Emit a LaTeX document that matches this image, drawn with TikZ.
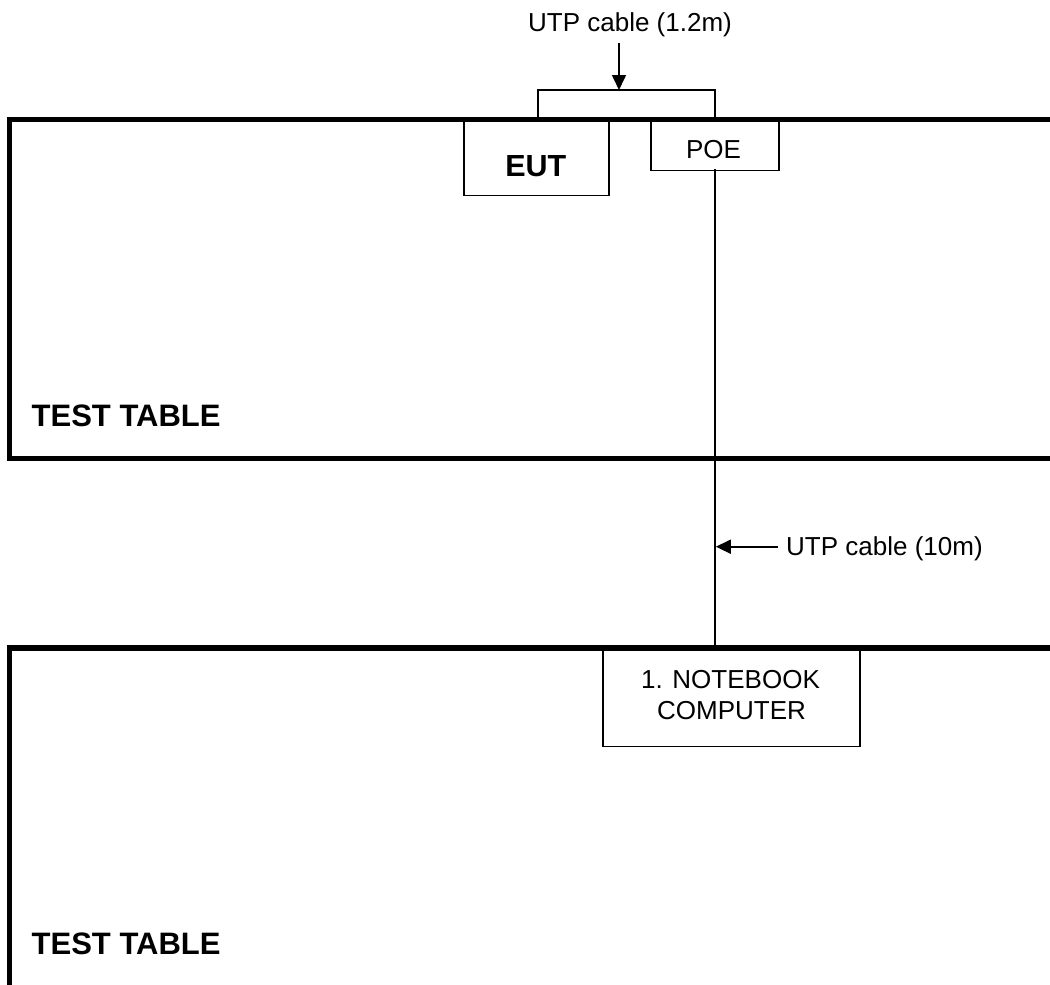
\documentclass[tikz,border=0pt]{standalone}
\usepackage{fontspec}
\setmainfont{Liberation Sans}
\usetikzlibrary{arrows.meta}

\tikzset{
  tableedge/.style={line width=5.3pt, line join=miter},
  devbox/.style={draw, line width=1.6pt, fill=white, inner sep=0pt},
  cable/.style={line width=1.6pt},
  callout/.style={line width=1.6pt, -{Triangle[length=15pt,width=14pt]}},
  lbl/.style={inner sep=0pt, font=\fontsize{26}{31}\selectfont},
  boldlbl/.style={inner sep=0pt, font=\fontsize{30.5}{36}\selectfont\bfseries},
}

\begin{document}
\begin{tikzpicture}[x=1pt, y=-1pt]
  \useasboundingbox (0,0) rectangle (1050,985);
  \clip (0,0) rectangle (1050,985);

  % devices on the upper table
  \node[devbox, anchor=north west, minimum width=145pt, minimum height=75pt] (eut) at (463.3,119.5) {};
  \node[devbox, anchor=north west, minimum width=128.3pt, minimum height=50pt] (poe) at (650,119.5) {};
  \node[boldlbl, anchor=base] (euttxt) at (535.8,176) {EUT};
  \node[lbl, anchor=base] (poetxt) at (713.5,158.3) {POE};

  % notebook on the lower table
  \node[devbox, anchor=north west, minimum width=256.7pt, minimum height=97.7pt] (nb) at (602.3,648) {};
  \node[lbl, anchor=base] (nbtxt1) at (730.5,688.3) {1. NOTEBOOK};
  \node[lbl, anchor=base] (nbtxt2) at (731.5,719) {COMPUTER};

  % the two test tables (open to the right)
  \draw[tableedge] (1080,119.5) -- (9.7,119.5) -- (9.7,458.7) -- (1080,458.7);
  \draw[tableedge] (1080,648) -- (9.7,648) -- (9.7,987.8) -- (1080,987.8);
  \node[inner sep=0pt, font=\fontsize{31}{36}\selectfont\bfseries, anchor=base west] (tt1) at (31.5,426.7) {TEST TABLE};
  \node[inner sep=0pt, font=\fontsize{31}{36}\selectfont\bfseries, anchor=base west] (tt2) at (31.5,954) {TEST TABLE};

  % short UTP cable looping over the table edge
  \coordinate (bl) at (537.7,119.5);
  \coordinate (br) at (715,119.5);
  \draw[cable, line join=miter] (bl) -- (537.7,90) -- (715,90) -- (br);

  % long UTP cable from POE to the notebook
  \coordinate (poeout) at (715,169.3);
  \coordinate (nbin) at (715,648);
  \draw[cable] (poeout) -- (nbin);

  % cable callouts
  \node[lbl, anchor=base] (lbl12) at (630,31.7) {UTP cable (1.2m)};
  \coordinate (a1s) at (619,43);
  \coordinate (a1e) at (619,90);
  \draw[callout] (a1s) -- (a1e);

  \node[lbl, anchor=base west] (lbl10) at (786,555) {UTP cable (10m)};
  \coordinate (a2s) at (778,546.7);
  \coordinate (a2e) at (715.8,546.7);
  \draw[callout] (a2s) -- (a2e);
\end{tikzpicture}
\end{document}
